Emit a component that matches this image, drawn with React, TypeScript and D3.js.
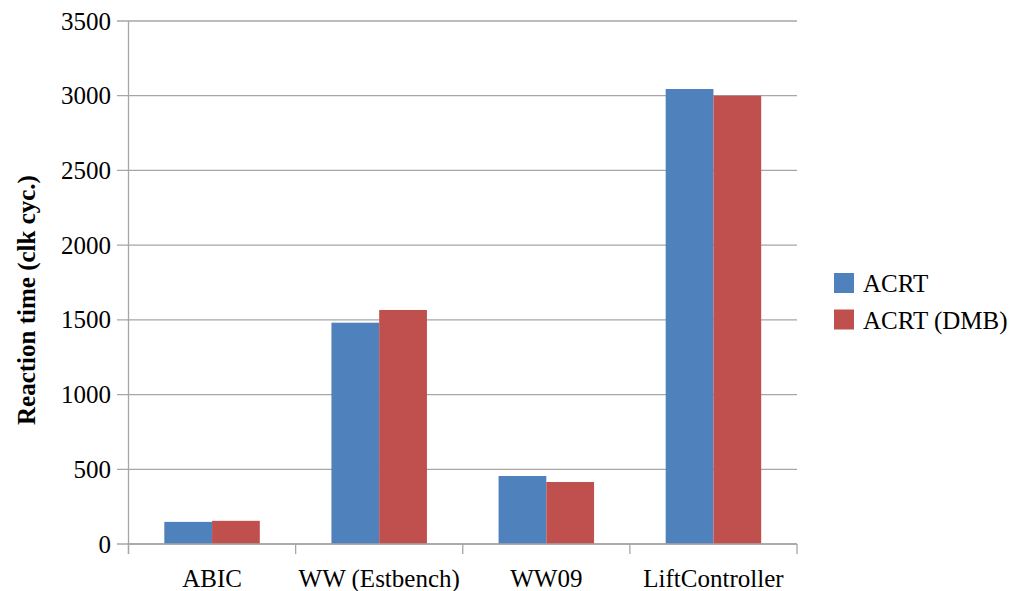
import React from "react";
import * as d3 from "d3";

const categories = ["ABIC", "WW (Estbench)", "WW09", "LiftController"];
const seriesNames = ["ACRT", "ACRT (DMB)"];
const acrt = [148, 1481, 455, 3045];
const acrtDmb = [155, 1566, 415, 3000];
const yTicks = [0, 500, 1000, 1500, 2000, 2500, 3000, 3500];
const colors = ["#4F81BD", "#C0504D"];

export default function App() {
  const W = 1014, H = 591;
  const left = 128.5, right = 797, top = 21, bottom = 544;
  const x = d3.scaleBand<string>().domain(categories).range([left, right]).paddingInner(0).paddingOuter(0);
  const y = d3.scaleLinear().domain([0, 3500]).range([bottom, top]);
  const bw = x.bandwidth();
  const barW = bw / 3.5;
  const offset = (bw - 2 * barW) / 2;
  const series = [acrt, acrtDmb];
  const font = "Liberation Serif, Times New Roman, Times, serif";
  const grid = "#A6A6A6";
  const boundaries = categories.map((c) => x(c)!).concat([right]);
  const ts: React.CSSProperties = { fontFamily: font };

  return (
    <svg width={W} height={H} style={{ position: "absolute", left: 0, top: 0, fontFamily: font }}>
      <rect width={W} height={H} fill="#fff" />
      {yTicks.map((t) => (
        <g key={t}>
          <line x1={117} x2={right} y1={y(t)} y2={y(t)} stroke={grid} strokeWidth={1.3} />
          <text x={111} y={y(t)} textAnchor="end" dominantBaseline="central" fontSize={25} fill="#000" style={ts}>
            {t}
          </text>
        </g>
      ))}
      {series.map((vals, si) =>
        vals.map((v, i) => (
          <rect
            key={`${si}-${i}`}
            x={x(categories[i])! + offset + si * barW}
            y={y(v)}
            width={barW}
            height={y(0) - y(v)}
            fill={colors[si]}
          />
        ))
      )}
      <line x1={left} x2={left} y1={top} y2={bottom + 10} stroke={grid} strokeWidth={1.3} />
      <line x1={left} x2={right} y1={bottom} y2={bottom} stroke={grid} strokeWidth={1.3} />
      {boundaries.map((bx, i) => (
        <line key={i} x1={bx} x2={bx} y1={bottom} y2={bottom + 10} stroke={grid} strokeWidth={1.3} />
      ))}
      {categories.map((c) => (
        <text key={c} x={x(c)! + bw / 2} y={587} textAnchor="middle" fontSize={25} fill="#000" style={ts}>
          {c}
        </text>
      ))}
      <text
        transform={`translate(35, 300) rotate(-90)`}
        textAnchor="middle"
        fontSize={25}
        fontWeight="bold"
        fill="#000"
        style={ts}
      >
        Reaction time (clk cyc.)
      </text>
      {seriesNames.map((n, i) => (
        <g key={n}>
          <rect x={834} y={273 + i * 36.5} width={20} height={20} fill={colors[i]} />
          <text x={863} y={292 + i * 36.5} fontSize={25} fill="#000" style={ts}>
            {n}
          </text>
        </g>
      ))}
    </svg>
  );
}
